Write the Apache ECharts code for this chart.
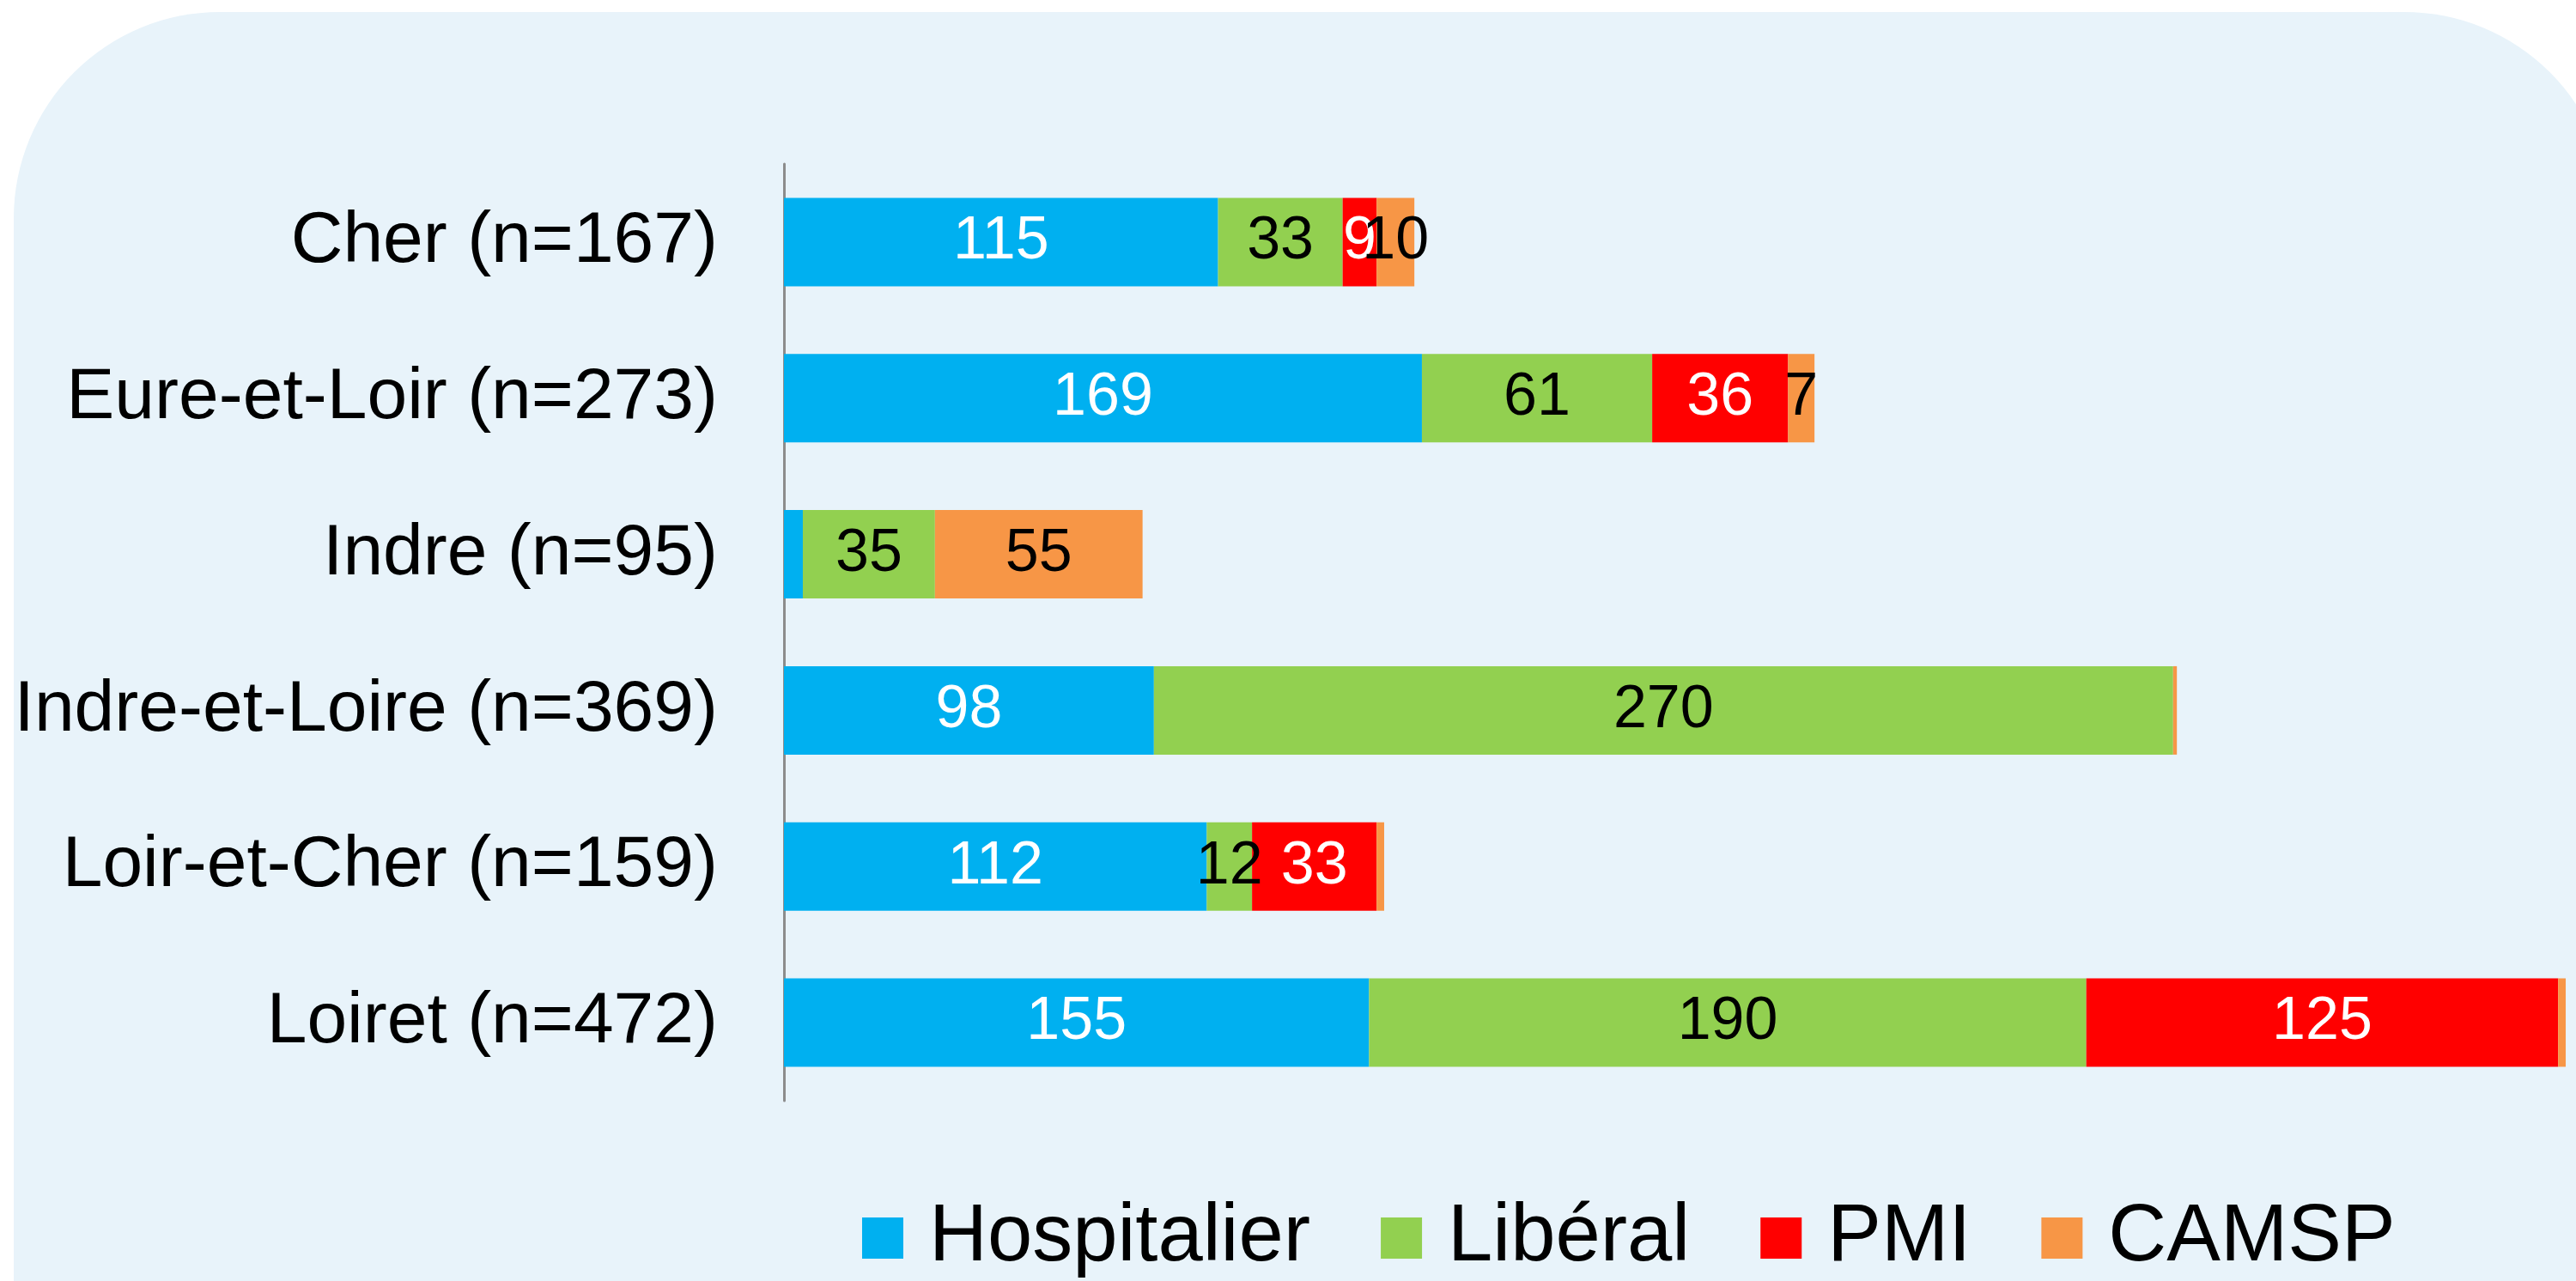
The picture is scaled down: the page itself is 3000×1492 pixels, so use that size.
<!DOCTYPE html>
<html>
<head>
<meta charset="utf-8">
<script src="https://cdn.jsdelivr.net/npm/echarts@6/dist/echarts.min.js"></script>
<style>
  html, body { margin: 0; padding: 0; background: #ffffff; }
  #chart { width: 3000px; height: 1492px; }
</style>
</head>
<body>
<div id="chart"></div>
<script>
var categories = ['Cher (n=167)', 'Eure-et-Loir (n=273)', 'Indre (n=95)', 'Indre-et-Loire (n=369)', 'Loir-et-Cher (n=159)', 'Loiret (n=472)'];
var hospitalier = [115, 169, 5, 98, 112, 155];
var liberal = [33, 61, 35, 270, 12, 190];
var pmi = [9, 36, 0, 0, 33, 125];
var camsp = [10, 7, 55, 1, 2, 2];
var xMax = 472;
var minLabel = 6;

var font = "'Liberation Sans', Arial, sans-serif";

function makeSeries(name, data, color, labelColor) {
    return {
        name: name,
        type: 'bar',
        stack: 'total',
        barWidth: 103,
        data: data,
        itemStyle: { color: color },
        label: {
            show: true,
            position: 'inside',
            color: labelColor,
            fontFamily: font,
            fontSize: 70,
            formatter: function (p) {
                return p.value >= minLabel ? p.value : '';
            }
        }
    };
}

var chart = echarts.init(document.getElementById('chart'));
var option = {
    animation: false,
    backgroundColor: '#ffffff',
    graphic: [{
        type: 'rect',
        z: -10,
        silent: true,
        shape: { x: 16, y: 14, width: 3024, height: 2000, r: 240 },
        style: { fill: '#E8F3FA' }
    }],
    grid: {
        left: 913,
        top: 191,
        height: 1091,
        right: 12,
        outerBoundsMode: 'none',
        containLabel: false
    },
    legend: {
        left: 999,
        top: 1390,
        itemWidth: 48,
        itemHeight: 48,
        itemGap: 82,
        icon: 'rect',
        data: ['Hospitalier', 'Libéral', 'PMI', 'CAMSP'],
        textStyle: {
            fontFamily: font,
            fontSize: 94,
            color: '#000000',
            padding: [0, 0, 0, 25]
        }
    },
    xAxis: {
        type: 'value',
        min: 0,
        max: xMax,
        show: false,
        splitLine: { show: false }
    },
    yAxis: {
        type: 'category',
        inverse: true,
        data: categories,
        axisLine: { show: true, lineStyle: { color: '#8C8C8C', width: 3 } },
        axisTick: { show: false },
        axisLabel: {
            margin: 77,
            color: '#000000',
            fontFamily: font,
            fontSize: 84
        }
    },
    series: [
        makeSeries('Hospitalier', hospitalier, '#00B0F0', '#ffffff'),
        makeSeries('Libéral', liberal, '#92D050', '#000000'),
        makeSeries('PMI', pmi, '#FF0000', '#ffffff'),
        makeSeries('CAMSP', camsp, '#F79646', '#000000')
    ]
};
chart.setOption(option);
</script>
</body>
</html>
